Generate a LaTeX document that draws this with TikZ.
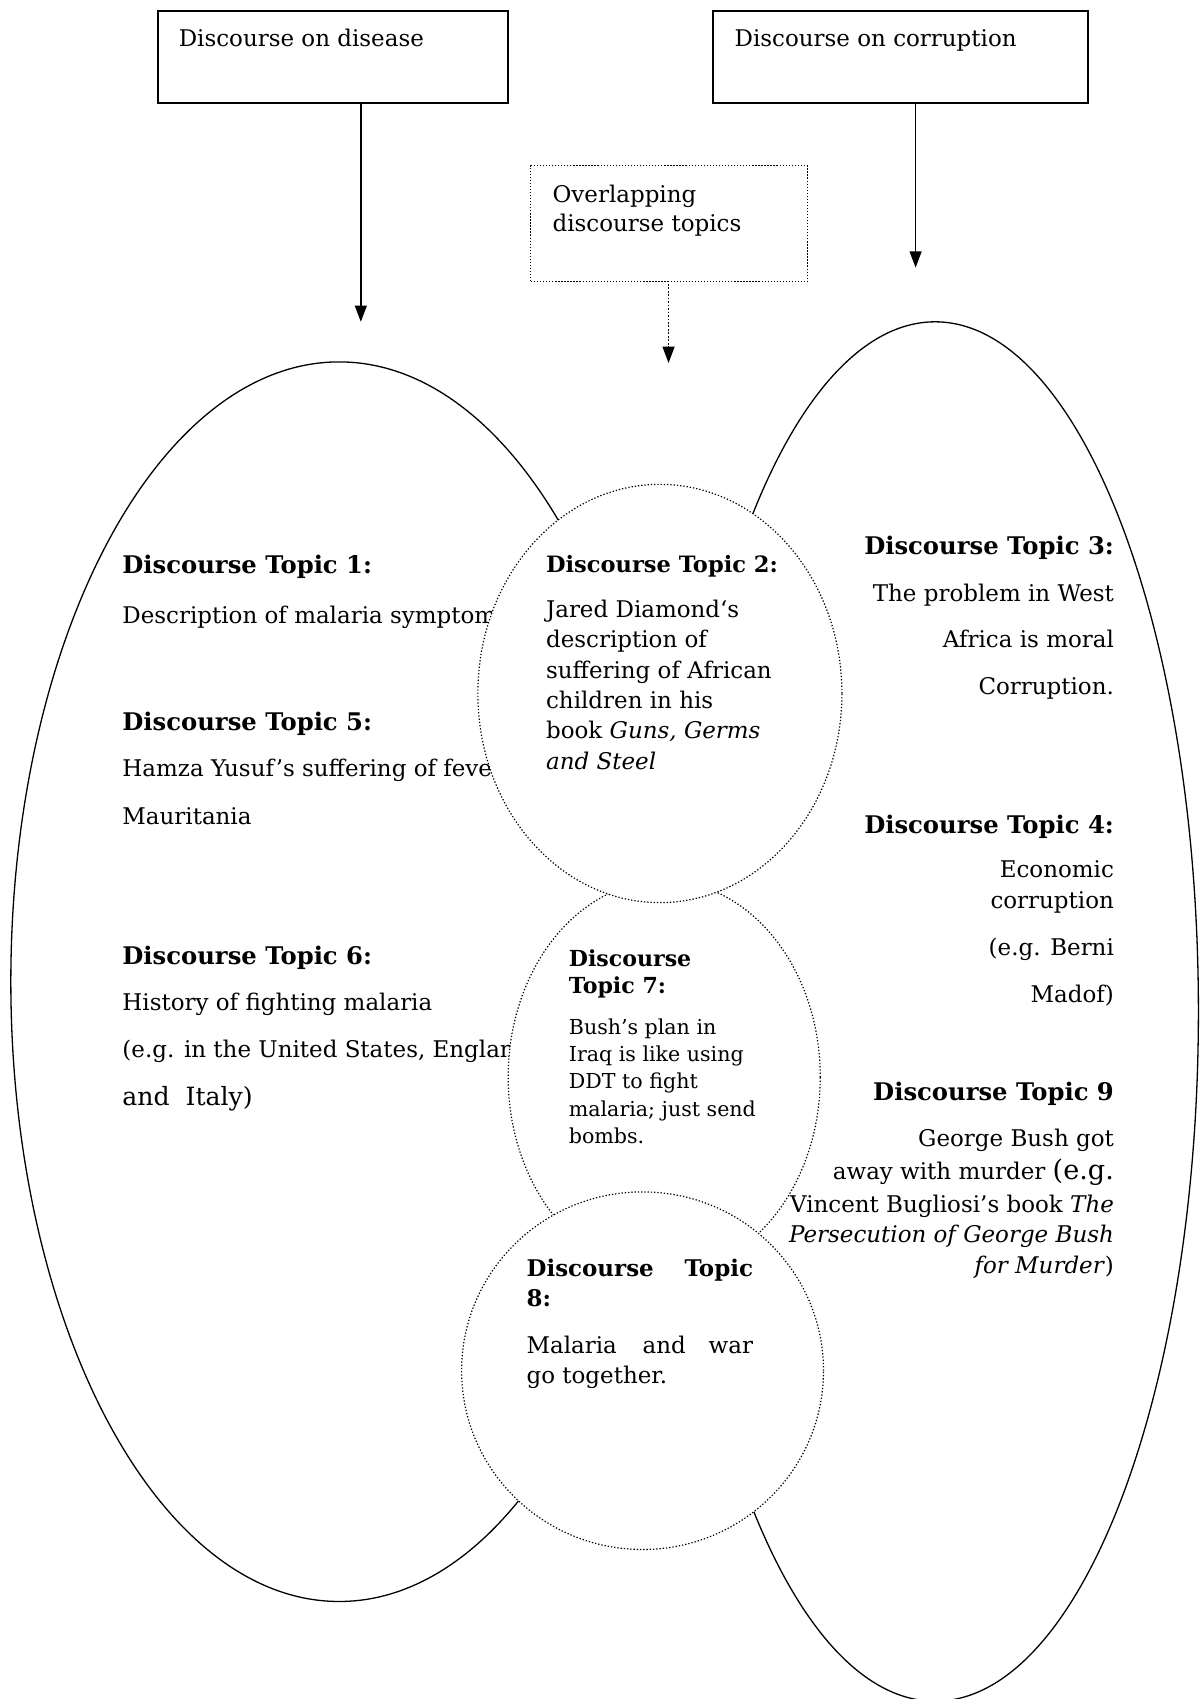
\documentclass[tikz,border=0pt]{standalone}
\usepackage{fontspec}
\setmainfont{DejaVu Serif}
\usetikzlibrary{arrows.meta,shapes.geometric}
\begin{document}
\begin{tikzpicture}[x=0.5pt,y=-0.5pt,
  every node/.style={inner sep=0pt, outer sep=0pt},
  solidbox/.style={draw, line width=0.8pt, rectangle},
  dotbox/.style={draw, line width=0.5pt, dash pattern=on 0.6pt off 0.8pt, rectangle},
  bigell/.style={draw, ellipse, line width=0.6pt},
  topiccirc/.style={draw, ellipse, line width=0.55pt, dash pattern=on 0.6pt off 0.9pt, fill=white},
  arr/.style={line width=0.7pt, -{Triangle[length=7.5pt,width=5.5pt]}},
  dotarr/.style={line width=0.6pt, dash pattern=on 0.8pt off 0.8pt, -{Triangle[length=7.5pt,width=5.5pt]}},
  body/.style={font=\fontsize{10.6}{13}\selectfont},
  bodybig/.style={font=\fontsize{11.6}{13}\selectfont},
  hd/.style={font=\fontsize{11.2}{13}\selectfont\bfseries},
  c8hd/.style={font=\fontsize{10.6}{13}\selectfont\bfseries},
  smallhd/.style={font=\fontsize{10.4}{12}\selectfont\bfseries},
  tiny/.style={font=\fontsize{9.5}{11}\selectfont},
  tinyhd/.style={font=\fontsize{10.2}{11}\selectfont\bfseries},
  lt/.style={anchor=base west},
  rt/.style={anchor=base east}
]
\useasboundingbox (0,0) rectangle (1107,1568);
\begin{scope}
\clip (0,0) rectangle (1107,1568);

% top boxes
\node[solidbox, minimum width=161.5pt, minimum height=42.5pt] (dis) at (307.5,52.5) {};
\node[solidbox, minimum width=173pt, minimum height=42.5pt] (cor) at (831,52.5) {};
\node[dotbox, minimum width=127.5pt, minimum height=53.5pt] (ovl) at (617.5,206.5) {};
\node[body, lt] (disT) at (165,43) {Discourse on disease};
\node[body, lt] (corT) at (678,43) {Discourse on corruption};
\node[body, lt] (ovlT1) at (510,187) {Overlapping};
\node[body, lt] (ovlT2) at (510,214) {discourse topics};

% arrows
\coordinate (la) at (333,297);
\coordinate (ra) at (845,247);
\coordinate (oa) at (617,335);
\draw[arr] (dis.south -| la) -- (la);
\draw[arr] (cor.south -| ra) -- (ra);
\draw[dotarr] ([yshift=-1pt]ovl.south -| oa) -- (oa);

% big ellipses
\node[bigell, minimum width=303pt, minimum height=572pt] (lell) at (313,906) {};
\node[bigell, minimum width=243pt, minimum height=636.5pt] (rell) at (863,933.5) {};

% left texts
\node[hd, lt] (t1h) at (113,529) {Discourse Topic 1:};
\node[body, lt] (t1a) at (113,575) {Description of malaria symptoms};
\node[hd, lt] (t5h) at (113,674) {Discourse Topic 5:};
\node[body, lt] (t5a) at (113,717) {Hamza Yusuf’s suffering of fever};
\node[body, lt] (t5b) at (113,761) {Mauritania};
\node[hd, lt] (t6h) at (113,890) {Discourse Topic 6:};
\node[body, lt] (t6a) at (113,933) {History of fighting malaria};
\node[body, lt] (t6b) at (113,976) {(e.g. in the United States, England};
\node[bodybig, lt] (t6c) at (113,1020) {and\ \ Italy)};

% overlapping circles
\node[topiccirc, minimum width=144pt, minimum height=181pt] (c7) at (613,994) {};
\node[topiccirc, minimum width=168pt, minimum height=193pt] (c2) at (609,640) {};
\node[topiccirc, minimum width=167pt, minimum height=165pt] (c8) at (593,1265) {};

% circle 2 text
\node[smallhd, lt] (t2h) at (504,528) {Discourse Topic 2:};
\node[body, lt] (t2a) at (504,570) {Jared Diamond‘s};
\node[body, lt] (t2b) at (504,598) {description of};
\node[body, lt] (t2c) at (504,626) {suffering of African};
\node[body, lt] (t2d) at (504,654) {children in his};
\node[body, lt] (t2e) at (504,682) {book \textit{Guns, Germs}};
\node[body, lt] (t2f) at (504,710) {\textit{and Steel}};

% circle 7 text
\node[tinyhd, lt] (t7h1) at (525,892) {Discourse};
\node[tinyhd, lt] (t7h2) at (525,917) {Topic 7:};
\node[tiny, lt] (t7a) at (525,955) {Bush’s plan in};
\node[tiny, lt] (t7b) at (525,980) {Iraq is like using};
\node[tiny, lt] (t7c) at (525,1005) {DDT to fight};
\node[tiny, lt] (t7d) at (525,1030) {malaria; just send};
\node[tiny, lt] (t7e) at (525,1055) {bombs.};

% circle 8 text
\node[c8hd, lt] (t8h1) at (486,1178) {Discourse};
\node[c8hd, rt] (t8h1b) at (695,1178) {Topic};
\node[c8hd, lt] (t8h2) at (486,1206) {8:};
\node[body, lt] (t8a) at (486,1249) {Malaria};
\node[body, anchor=base] (t8b) at (613,1249) {and};
\node[body, rt] (t8c) at (695,1249) {war};
\node[body, lt] (t8d) at (486,1277) {go together.};

% right texts
\node[hd, rt] (t3h) at (1028,512) {Discourse Topic 3:};
\node[body, rt] (t3a) at (1028,555) {The problem in West};
\node[body, rt] (t3b) at (1028,598) {Africa is moral};
\node[body, rt] (t3c) at (1028,641) {Corruption.};
\node[hd, rt] (t4h) at (1028,769) {Discourse Topic 4:};
\node[body, rt] (t4a) at (1028,810) {Economic};
\node[body, rt] (t4b) at (1028,838) {corruption};
\node[body, rt] (t4c) at (1028,882) {(e.g. Berni};
\node[body, rt] (t4d) at (1028,925) {Madof)};
\node[hd, rt] (t9h) at (1028,1016) {Discourse Topic 9};
\node[body, rt] (t9a) at (1028,1058) {George Bush got};
\node[body, rt] (t9b) at (1028,1089) {away with murder {\fontsize{12.5}{13}\selectfont(e.g.}};
\node[body, rt] (t9c) at (1028,1119) {Vincent Bugliosi’s book \textit{The}};
\node[body, rt] (t9d) at (1028,1147) {\textit{Persecution of George Bush}};
\node[body, rt] (t9e) at (1028,1175) {\textit{for Murder})};
\end{scope}
\end{tikzpicture}
\end{document}
